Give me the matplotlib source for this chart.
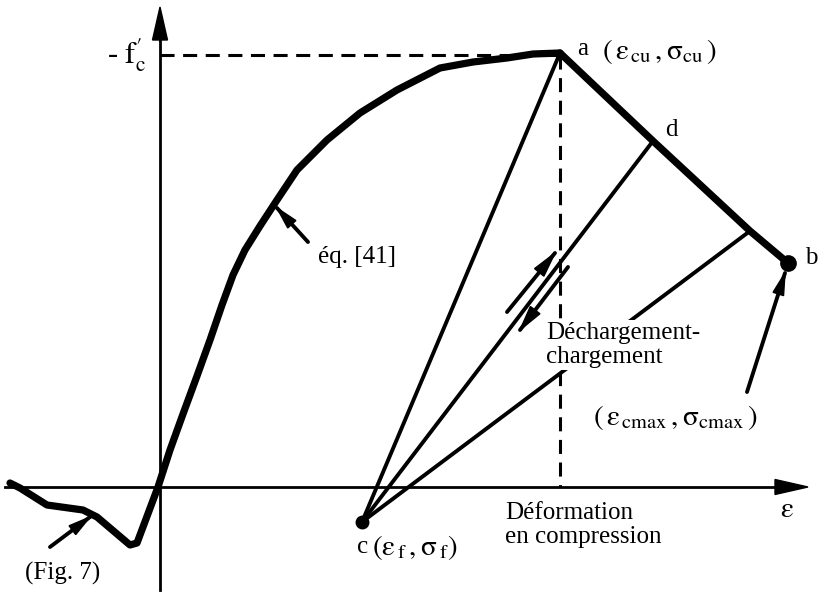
import matplotlib.pyplot as plt

plt.rcParams["font.family"] = ["Liberation Serif", "DejaVu Serif"]
plt.rcParams["mathtext.fontset"] = "stix"
plt.rcParams["mathtext.default"] = "rm"

# envelope curve (strain, stress), arbitrary units, compression positive
env_eps = [-1.50, -1.40, -1.13, -0.77, -0.63, -0.30, -0.23, -0.02, 0.10, 0.23,
           0.37, 0.50, 0.62, 0.73, 0.85, 1.00, 1.17, 1.37, 1.67, 2.00,
           2.37, 2.80, 3.13, 3.47, 3.73, 4.00]
env_sig = [0.04, -0.01, -0.18, -0.23, -0.30, -0.58, -0.56, 0.00, 0.37, 0.73,
           1.11, 1.47, 1.82, 2.12, 2.37, 2.61, 2.87, 3.17, 3.47, 3.74,
           3.97, 4.19, 4.25, 4.29, 4.33, 4.34]

# post-peak branch a -> d -> e -> b
post_eps = [4.00, 4.93, 5.90, 6.28]
post_sig = [4.34, 3.46, 2.56, 2.24]

# residual point c and peak
c_pt = (2.02, -0.35)
a_pt = (4.00, 4.34)
b_pt = (6.28, 2.24)
fc = 4.32

fig = plt.figure(figsize=(8.18, 5.92), dpi=100)
ax = fig.add_axes([0, 0, 1, 1])
ax.set_xlim(-1.60, 6.58)
ax.set_ylim(-1.05, 4.87)
ax.axis("off")

# axes with arrowheads
ax.plot([-1.55, 6.30], [0, 0], color="k", lw=2.0, zorder=2)
ax.arrow(6.15, 0, 0.33, 0, width=0.0, head_width=0.15, head_length=0.33,
         length_includes_head=True, fc="k", ec="k", zorder=3)
ax.plot([0, 0], [-1.03, 4.50], color="k", lw=2.0, zorder=2)
ax.arrow(0, 4.45, 0, 0.35, width=0.0, head_width=0.15, head_length=0.33,
         length_includes_head=True, fc="k", ec="k", zorder=3)

# dashed guides to the peak
ax.plot([0, a_pt[0]], [fc, fc], color="k", lw=2.2, dashes=(4.6, 2.8), zorder=2)
ax.plot([a_pt[0], a_pt[0]], [fc, 0], color="k", lw=2.2, dashes=(4.6, 2.8), zorder=2)

# envelope and softening branch
ax.plot(env_eps, env_sig, color="k", lw=5.2, solid_joinstyle="round",
        solid_capstyle="round", zorder=4)
ax.plot(post_eps, post_sig, color="k", lw=5.2, solid_joinstyle="round",
        solid_capstyle="round", zorder=4)

# unloading / reloading lines from c
for ex, sy in zip(post_eps[:3], post_sig[:3]):
    ax.plot([c_pt[0], ex], [c_pt[1], sy], color="k", lw=2.8, zorder=3)

ax.plot(*c_pt, "o", color="k", ms=9, zorder=5)
ax.plot(*b_pt, "o", color="k", ms=11, zorder=5)


def pointer(tail, tip, hw=0.11, hl=0.22):
    ax.annotate("", xy=tip, xytext=tail, zorder=6,
                arrowprops=dict(arrowstyle="-", lw=2.8, color="k",
                                shrinkA=0, shrinkB=0))
    dx, dy = tip[0] - tail[0], tip[1] - tail[1]
    n = (dx ** 2 + dy ** 2) ** 0.5
    ux, uy = dx / n, dy / n
    ax.arrow(tip[0] - ux * hl, tip[1] - uy * hl, ux * hl, uy * hl, width=0.0,
             head_width=hw, head_length=hl, length_includes_head=True,
             fc="k", ec="k", zorder=6)


pointer((-1.10, -0.60), (-0.70, -0.30))
pointer((1.48, 2.45), (1.17, 2.79))
pointer((5.87, 0.95), (6.25, 2.14))
pointer((3.47, 1.75), (3.95, 2.34), hw=0.12, hl=0.25)
pointer((4.08, 2.20), (3.60, 1.57), hw=0.12, hl=0.25)

fs = 18
fm = 21
ax.text(-0.14, fc, r"- $f^{\prime}_{c}$", fontsize=fs + 4, ha="right", va="center")
ax.text(4.17, 4.38, "a", fontsize=fs, ha="left", va="center")
ax.text(4.42, 4.36, r"$(\,ε_{\,cu}\,,σ_{cu}\,)$", fontsize=fm,
        ha="left", va="center")
ax.text(5.05, 3.57, "d", fontsize=fs, ha="left", va="center")
ax.text(6.45, 2.29, "b", fontsize=fs, ha="left", va="center")
ax.text(3.86, 1.42, "Déchargement-\nchargement", fontsize=fs, ha="left",
        va="center", linespacing=1.15, zorder=4.5,
        bbox=dict(facecolor="white", edgecolor="none", pad=1))
ax.text(4.33, 0.70, r"$(\,ε_{\,cmax}\,,σ_{cmax}\,)$", fontsize=fm,
        ha="left", va="center")
ax.text(3.45, -0.38, "Déformation\nen compression", fontsize=fs, ha="left",
        va="center", linespacing=1.15)
ax.text(6.20, -0.23, r"$ε$", fontsize=fm, ha="left", va="center")
ax.text(1.97, -0.60, "c", fontsize=fs, ha="left", va="center")
ax.text(2.12, -0.60, r"$(ε_{\,f}\,,σ_{\,f})$", fontsize=fm,
        ha="left", va="center")
ax.text(-1.35, -0.86, "(Fig. 7)", fontsize=fs, ha="left", va="center")
ax.text(1.58, 2.30, "éq. [41]", fontsize=fs, ha="left", va="center")

fig.savefig("out.png", dpi=100)
